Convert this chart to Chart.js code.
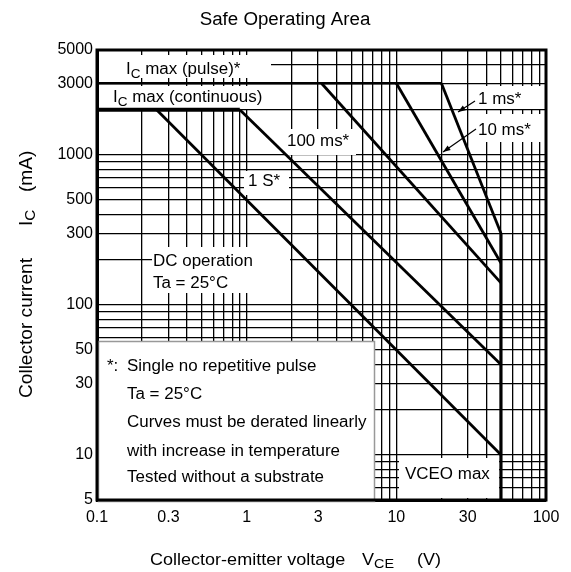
<!DOCTYPE html>
<html>
<head>
<meta charset="utf-8">
<script src="https://cdn.jsdelivr.net/npm/chart.js@4"></script>
<style>
  body { margin: 0; background: #fff; }
  canvas { display: block; }
</style>
</head>
<body>
<canvas id="soa" width="571" height="572"></canvas>
<script>
// Curves of the safe operating area (VCE in V, IC in mA)
const curveNames = ["IC max (pulse)", "IC max (continuous)", "DC", "1 S", "100 ms", "10 ms", "1 ms", "VCEO max"];
const curveVce = [[0.1, 20], [0.1, 0.9], [0.25, 50], [0.9, 50], [3.16, 50], [10, 50], [20, 50], [50, 50]];
const curveIc = [[3000, 3000], [2000, 2000], [2000, 10], [2000, 40], [3000, 140], [3000, 190], [3000, 300], [300, 5]];
const curveWidth = [2.5, 4, 2.8, 2.8, 2.8, 2.8, 2.8, 3.2];

// Axis tick labels
const xLabels = [0.1, 0.3, 1, 3, 10, 30, 100];
const yLabels = [5, 10, 30, 50, 100, 300, 500, 1000, 3000, 5000];
const minorSteps = [1, 2, 3, 4, 5, 6, 7, 8, 9];

// grid lines at 1..9 of every decade
function gridValues(min, max) {
  var vals = [];
  for (var e = -2; e <= 4; e++) {
    minorSteps.forEach(function (m) {
      var v = Number((m * Math.pow(10, e)).toPrecision(6));
      if (v >= min - 1e-9 && v <= max + 1e-9) vals.push(v);
    });
  }
  return vals;
}

function hasLabel(list, v) {
  return list.some(function (l) { return Math.abs(l - v) / l < 1e-6; });
}

const FONT = '"Liberation Sans", Arial, Helvetica, sans-serif';
const SX = 1.06; // reference text is slightly wide

function txt(ctx, s, x, y, size) {
  ctx.save();
  ctx.font = size + "px " + FONT;
  ctx.fillStyle = "#000";
  ctx.textBaseline = "middle";
  ctx.textAlign = "left";
  ctx.translate(x, y);
  ctx.scale(SX, 1);
  ctx.fillText(s, 0, 0);
  var w = ctx.measureText(s).width * SX;
  ctx.restore();
  return w;
}

// text with subscript part: [main, sub, rest]
function subTxt(ctx, main, sub, rest, x, y, size) {
  var w = txt(ctx, main, x, y, size);
  w += txt(ctx, sub, x + w, y + 4, size * 0.8);
  if (rest) w += txt(ctx, rest, x + w, y, size);
  return w;
}

function arrow(ctx, x1, y1, x2, y2) {
  ctx.save();
  ctx.strokeStyle = "#000";
  ctx.fillStyle = "#000";
  ctx.lineWidth = 1.2;
  ctx.beginPath();
  ctx.moveTo(x1, y1);
  ctx.lineTo(x2, y2);
  ctx.stroke();
  var a = Math.atan2(y2 - y1, x2 - x1);
  ctx.beginPath();
  ctx.moveTo(x2, y2);
  ctx.lineTo(x2 - 8 * Math.cos(a - 0.35), y2 - 8 * Math.sin(a - 0.35));
  ctx.lineTo(x2 - 8 * Math.cos(a + 0.35), y2 - 8 * Math.sin(a + 0.35));
  ctx.closePath();
  ctx.fill();
  ctx.restore();
}

// white boxes behind the annotation texts
const labelBoxes = [
  [99, 55, 172, 23], [99, 86, 172, 23], [284, 129, 72, 26], [244, 171, 45, 24],
  [152, 247, 138, 46], [470, 86, 74, 23], [470, 114, 74, 28], [399, 458, 100, 40]
];

const soaPlugin = {
  id: "soaPlugin",
  beforeDatasetsDraw: function (chart) {
    var ctx = chart.ctx;
    ctx.save();
    ctx.fillStyle = "#fff";
    labelBoxes.forEach(function (b) { ctx.fillRect(b[0], b[1], b[2], b[3]); });
    // note box
    ctx.fillRect(98, 341, 276, 158);
    ctx.strokeStyle = "#999";
    ctx.lineWidth = 1.5;
    ctx.strokeRect(98.5, 341.5, 276, 160);
    ctx.restore();
  },
  afterDatasetsDraw: function (chart) {
    var ctx = chart.ctx;
    var a = chart.chartArea;
    ctx.save();
    ctx.strokeStyle = "#000";
    ctx.lineWidth = 3;
    ctx.strokeRect(a.left, a.top, a.right - a.left, a.bottom - a.top);
    ctx.restore();

    // title
    ctx.save();
    ctx.font = "18px " + FONT;
    ctx.fillStyle = "#000";
    ctx.textAlign = "center";
    ctx.textBaseline = "middle";
    ctx.translate(285, 20);
    ctx.scale(1.04, 1);
    ctx.fillText("Safe Operating Area", 0, 0);
    ctx.restore();

    // curve labels
    subTxt(ctx, "I", "C", " max (pulse)*", 126, 70, 16);
    subTxt(ctx, "I", "C", " max (continuous)", 113, 98, 16);
    txt(ctx, "100 ms*", 287, 142, 16);
    txt(ctx, "1 S*", 248, 182, 16);
    txt(ctx, "DC operation", 153, 262, 16);
    txt(ctx, "Ta = 25°C", 153, 284, 16);
    txt(ctx, "1 ms*", 478, 100, 16);
    txt(ctx, "10 ms*", 478, 131, 16);
    txt(ctx, "VCEO max", 405, 475, 16);
    arrow(ctx, 475, 101, 458, 112);
    arrow(ctx, 476, 129, 443, 152);

    // note
    txt(ctx, "*:", 107, 367, 16);
    txt(ctx, "Single no repetitive pulse", 127, 367, 16);
    txt(ctx, "Ta = 25°C", 127, 395, 16);
    txt(ctx, "Curves must be derated linearly", 127, 423, 16);
    txt(ctx, "with increase in temperature", 127, 452, 16);
    txt(ctx, "Tested without a substrate", 127, 478, 16);

    // axis titles
    txt(ctx, "Collector-emitter voltage", 150, 560, 17);
    subTxt(ctx, "V", "CE", "", 362, 560, 17);
    txt(ctx, "(V)", 417, 560, 17);

    ctx.save();
    ctx.translate(27, 398);
    ctx.rotate(-Math.PI / 2);
    txt(ctx, "Collector current", 0, 0, 18);
    subTxt(ctx, "I", "C", "", 172, 0, 18);
    txt(ctx, "(mA)", 206, 0, 18);
    ctx.restore();
  }
};

const datasets = curveNames.map(function (name, i) {
  return {
    label: name,
    data: curveVce[i].map(function (v, j) { return { x: v, y: curveIc[i][j] }; }),
    showLine: true,
    borderColor: "#000",
    borderWidth: curveWidth[i],
    pointRadius: 0,
    fill: false,
    borderCapStyle: "butt"
  };
});

const tickFont = { family: FONT, size: 16 };

new Chart(document.getElementById("soa").getContext("2d"), {
  type: "scatter",
  data: { datasets: datasets },
  options: {
    responsive: false,
    animation: false,
    layout: { padding: { left: 0, top: 50, right: 25, bottom: 0 } },
    plugins: { legend: { display: false }, title: { display: false }, tooltip: { enabled: false } },
    scales: {
      x: {
        type: "logarithmic",
        min: 0.1,
        max: 100,
        afterBuildTicks: function (s) { s.ticks = gridValues(0.1, 100).map(function (v) { return { value: v }; }); },
        afterFit: function (s) { s.height = 72; },
        ticks: {
          autoSkip: false, maxRotation: 0, padding: 8, color: "#000", font: tickFont,
          callback: function (v) { return hasLabel(xLabels, v) ? String(v) : ""; }
        },
        grid: { color: "#000", lineWidth: 1.3, drawTicks: false },
        border: { color: "#000", width: 3 }
      },
      y: {
        type: "logarithmic",
        min: 5,
        max: 5000,
        afterBuildTicks: function (s) { s.ticks = gridValues(5, 5000).map(function (v) { return { value: v }; }); },
        afterFit: function (s) { s.width = 97; },
        ticks: {
          autoSkip: false, padding: 4, color: "#000", font: tickFont,
          callback: function (v) { return hasLabel(yLabels, v) ? String(v) : ""; }
        },
        grid: { color: "#000", lineWidth: 1.3, drawTicks: false },
        border: { color: "#000", width: 3 }
      }
    }
  },
  plugins: [soaPlugin]
});
</script>
</body>
</html>
